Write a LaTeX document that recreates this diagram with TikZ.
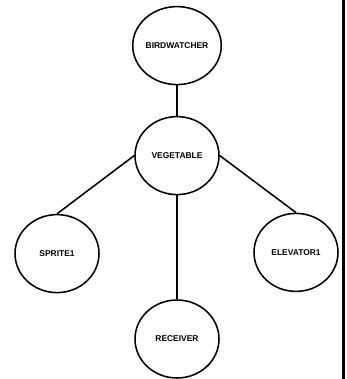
\documentclass[tikz,border=0pt]{standalone}
\usepackage{fontspec}
\setsansfont{Liberation Sans}
\usepackage{tikz}
\usetikzlibrary{shapes.geometric}
\tikzset{
  unit/.style={ellipse, draw=black, line width=1.1pt, fill=white,
               minimum width=2.1cm, minimum height=1.95cm, inner sep=0pt,
               font=\fontsize{6}{7}\selectfont\sffamily\bfseries, text centered},
  link/.style={line width=1.1pt, black},
}

\begin{document}
\begin{tikzpicture}
    \useasboundingbox (0,0) rectangle (8.65,-9.475);

    \node[unit] (birdwatcher) at (4.425,-1.14) {BIRDWATCHER};
    \node[unit] (vegetable)   at (4.425,-3.89) {VEGETABLE};
    \node[unit] (sprite)      at (1.425,-6.34) {SPRITE1};
    \node[unit] (elevator)    at (7.4,-6.31)   {ELEVATOR1};
    \node[unit] (receiver)    at (4.425,-8.475){RECEIVER};

    \draw[link] (birdwatcher.south) -- (vegetable.north);
    \draw[link] (vegetable.south) -- (receiver.north);
    \draw[link] (vegetable.west) -- (sprite.north);
    \draw[link] (vegetable.east) -- (elevator.north);

    % frame edge on the right
    \draw[line width=2.2pt] (8.59,0) -- (8.59,-9.475);
  \end{tikzpicture}
\end{document}
